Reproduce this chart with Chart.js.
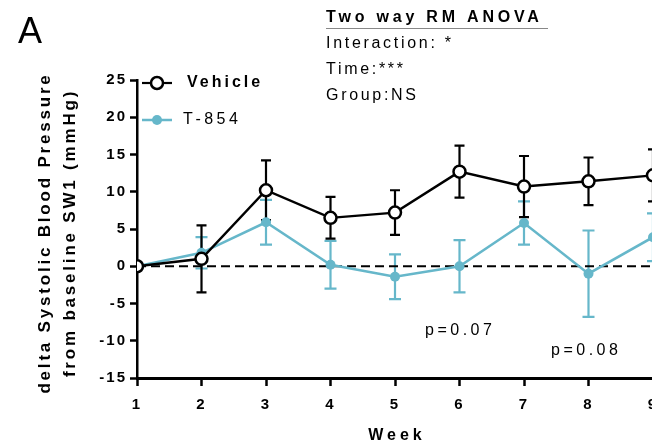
<!DOCTYPE html>
<html>
<head>
<meta charset="utf-8">
<script src="https://cdn.jsdelivr.net/npm/chart.js@4.4.1/dist/chart.umd.min.js"></script>
<style>
  html, body { margin: 0; padding: 0; background: #fff; overflow: hidden; }
  #wrap { width: 700px; height: 448px; position: relative; }
</style>
</head>
<body>
<div id="wrap"><canvas id="myChart"></canvas></div>
<script>
// data (mean +/- SEM)
const weeks = [1, 2, 3, 4, 5, 6, 7, 8, 9];
const vehicleMean = [0, 1.0, 10.2, 6.5, 7.2, 12.7, 10.7, 11.4, 12.2];
const vehicleSem = [0, 4.5, 4.0, 2.8, 3.0, 3.5, 4.1, 3.2, 3.5];
const t854Mean = [0, 1.8, 5.9, 0.2, -1.4, 0, 5.8, -1.0, 3.9];
const t854Sem = [0, 2.1, 3.0, 3.2, 3.0, 3.5, 2.9, 5.8, 3.2];
const baseline = [0, 0];
const yMin = -15, yMax = 25, yStep = 5;

const blue = '#66b7ca';
const FONT = "'Liberation Sans', Arial, sans-serif";

const toPoints = (vals) => vals.map((v, i) => ({ x: weeks[i], y: v }));

// draw mean +/- sem whiskers with caps
const errorBars = {
  id: 'errorBars',
  beforeDatasetsDraw(chart) {
    const ctx = chart.ctx;
    const x = chart.scales.x, y = chart.scales.y;
    const sets = [[t854Mean, t854Sem, blue, 6], [vehicleMean, vehicleSem, '#000', 5]];
    ctx.save();
    sets.forEach(([means, sems, color, cap]) => {
      ctx.strokeStyle = color;
      ctx.lineWidth = 2.2;
      means.forEach((m, i) => {
        if (!sems[i]) return;
        const px = x.getPixelForValue(weeks[i]);
        const top = y.getPixelForValue(m + sems[i]);
        const bot = y.getPixelForValue(m - sems[i]);
        ctx.beginPath();
        ctx.moveTo(px, top); ctx.lineTo(px, bot);
        ctx.moveTo(px - cap, top); ctx.lineTo(px + cap, top);
        ctx.moveTo(px - cap, bot); ctx.lineTo(px + cap, bot);
        ctx.stroke();
      });
    });
    ctx.restore();
  }
};

function txt(ctx, s, x, y, font, spacing, align) {
  ctx.font = font;
  ctx.letterSpacing = spacing + 'px';
  ctx.textAlign = align || 'left';
  ctx.textBaseline = 'middle';
  ctx.fillStyle = '#000';
  ctx.fillText(s, x, y);
}

// titles, legend and stats text
const labels = {
  id: 'labels',
  beforeDraw(chart) {
    chart.ctx.letterSpacing = '2px';
  },
  afterDraw(chart) {
    const ctx = chart.ctx;
    ctx.save();
    txt(ctx, 'A', 18, 33, '36px ' + FONT, 0);

    txt(ctx, 'Two way RM ANOVA', 326, 18, 'bold 16px ' + FONT, 3.8);
    ctx.strokeStyle = '#888';
    ctx.lineWidth = 1;
    ctx.beginPath(); ctx.moveTo(326, 28.5); ctx.lineTo(548, 28.5); ctx.stroke();
    txt(ctx, 'Interaction: *', 326, 44, '16px ' + FONT, 2.7);
    txt(ctx, 'Time:***', 326, 70, '16px ' + FONT, 2.7);
    txt(ctx, 'Group:NS', 326, 96, '16px ' + FONT, 2.7);

    txt(ctx, 'p=0.07', 425, 331, '16px ' + FONT, 3.5);
    txt(ctx, 'p=0.08', 551, 351, '16px ' + FONT, 3.5);

    // legend
    ctx.lineWidth = 2.2;
    ctx.strokeStyle = '#000';
    ctx.beginPath(); ctx.moveTo(142, 83); ctx.lineTo(172, 83); ctx.stroke();
    ctx.fillStyle = '#fff';
    ctx.lineWidth = 2.5;
    ctx.beginPath(); ctx.arc(157, 83, 6, 0, Math.PI * 2); ctx.fill(); ctx.stroke();
    ctx.strokeStyle = blue;
    ctx.lineWidth = 2.5;
    ctx.beginPath(); ctx.moveTo(142, 120); ctx.lineTo(172, 120); ctx.stroke();
    ctx.fillStyle = blue;
    ctx.beginPath(); ctx.arc(157, 120, 5, 0, Math.PI * 2); ctx.fill();
    txt(ctx, 'Vehicle', 187, 83, 'bold 16px ' + FONT, 3);
    txt(ctx, 'T-854', 183, 120, '16px ' + FONT, 3.5);

    // axis titles
    txt(ctx, 'Week', 397, 436, 'bold 16px ' + FONT, 4, 'center');
    ctx.save();
    ctx.translate(45, 233);
    ctx.rotate(-Math.PI / 2);
    txt(ctx, 'delta Systolic Blood Pressure', 0, 0, 'bold 17px ' + FONT, 2.8, 'center');
    txt(ctx, 'from baseline SW1 (mmHg)', 0, 25, 'bold 17px ' + FONT, 2.8, 'center');
    ctx.restore();
    ctx.restore();
  }
};

const noPad = (scale) => {
  scale.paddingLeft = 0; scale.paddingRight = 0;
  scale.paddingTop = 0; scale.paddingBottom = 0;
};

new Chart(document.getElementById('myChart'), {
  type: 'line',
  data: {
    datasets: [
      {
        label: 'Vehicle',
        data: toPoints(vehicleMean),
        borderColor: '#000',
        borderWidth: 2.4,
        pointRadius: 6,
        pointBackgroundColor: '#fff',
        pointBorderColor: '#000',
        pointBorderWidth: 2.5,
        order: 1
      },
      {
        label: 'T-854',
        data: toPoints(t854Mean),
        borderColor: blue,
        borderWidth: 2.5,
        pointRadius: 5,
        pointBackgroundColor: blue,
        pointBorderColor: blue,
        pointBorderWidth: 0,
        order: 2
      },
      {
        label: 'baseline',
        data: [{ x: weeks[0], y: baseline[0] }, { x: weeks[weeks.length - 1], y: baseline[1] }],
        borderColor: '#000',
        borderWidth: 2,
        borderDash: [9, 5],
        pointRadius: 0,
        order: 3
      }
    ]
  },
  options: {
    responsive: true,
    maintainAspectRatio: false,
    animation: false,
    devicePixelRatio: 1,
    layout: { padding: { top: 80, right: 47, bottom: 0, left: 0 } },
    plugins: { legend: { display: false }, tooltip: { enabled: false } },
    scales: {
      x: {
        type: 'linear',
        min: 1, max: 9,
        afterFit(scale) { scale.height = 70; noPad(scale); },
        ticks: { stepSize: 1, color: '#000', padding: 10, font: { family: FONT, size: 15, weight: 'bold' } },
        grid: { drawOnChartArea: false, drawTicks: true, tickLength: 8, tickWidth: 2.5, tickColor: '#000' },
        border: { color: '#000', width: 3 }
      },
      y: {
        min: yMin, max: yMax,
        afterFit(scale) { scale.width = 137; noPad(scale); },
        ticks: { stepSize: yStep, color: '#000', padding: 3, font: { family: FONT, size: 15, weight: 'bold' } },
        grid: { drawOnChartArea: false, drawTicks: true, tickLength: 7, tickWidth: 2.5, tickColor: '#000' },
        border: { color: '#000', width: 2.5 }
      }
    }
  },
  plugins: [errorBars, labels]
});
</script>
</body>
</html>
